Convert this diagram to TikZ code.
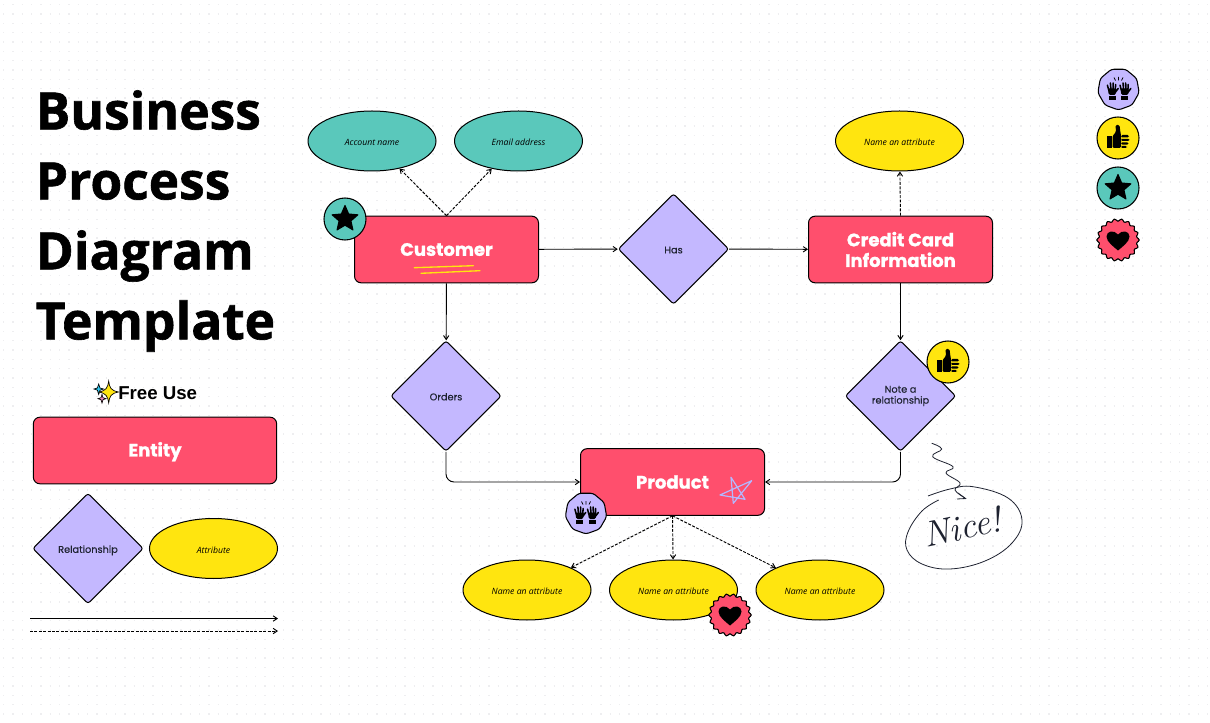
\documentclass[tikz,border=0pt]{standalone}
\usepackage{fontspec}
\usetikzlibrary{shapes.geometric,arrows.meta}
\newfontfamily\titlefont{Open Sans}[BoldFeatures={FakeBold=1.2}]
\newfontfamily\headfont{Poppins}[BoldFeatures={FakeBold=1.2}]
\newfontfamily\labelfont{Poppins}[FakeBold=0.2]
\newfontfamily\attrfont{Open Sans}
\newfontfamily\freefont{Liberation Sans}
\definecolor{cred}{HTML}{FF4F6D}
\definecolor{cpurple}{HTML}{C4B8FF}
\definecolor{cteal}{HTML}{5AC8BB}
\definecolor{cyellow}{HTML}{FFE50F}
\definecolor{cink}{HTML}{1E2230}
\definecolor{cdot}{HTML}{EEEEF0}
\definecolor{cscrib}{HTML}{B4B8FF}
\definecolor{ccyan}{HTML}{30C8F0}
\definecolor{cpink}{HTML}{F08AC0}
\tikzset{
  x=0.75pt,y=-0.75pt,
  entity/.style={draw=black,fill=cred,rounded corners=5pt,line width=0.75pt,minimum width=138pt,minimum height=50pt,align=center,text=white,font=\headfont\bfseries\fontsize{13.5}{15.5}\selectfont,inner sep=0pt},
  relation/.style={diamond,aspect=1,draw=black,fill=cpurple,rounded corners=2pt,line width=0.75pt,minimum width=83pt,minimum height=83pt,align=center,text=cink,font=\labelfont\fontsize{7.3}{8.2}\selectfont,inner sep=0pt},
  attrib/.style={ellipse,draw=black,fill=#1,line width=0.75pt,minimum width=96pt,minimum height=45pt,inner sep=0pt,font=\attrfont\itshape\fontsize{6.5}{7}\selectfont,text=black,text height=7pt,text depth=0pt},
  conn/.style={draw=black,line width=0.7pt,-{Straight Barb[length=3pt,width=4pt]},rounded corners=6pt},
  dconn/.style={conn,dash pattern=on 2.2pt off 1.1pt},
  badge/.style={draw=black,line width=0.8pt},
  pics/starbadge/.style={code={
    \draw[badge,fill=cteal] (0,0) circle (21);
    \fill[black,line join=round,draw=black,line width=0.8pt] (0,-13.5) -- (3.64,-5.02) -- (12.84,-4.17) -- (5.9,1.92) -- (7.94,10.92) -- (0,6.2) -- (-7.94,10.92) -- (-5.9,1.92) -- (-12.84,-4.17) -- (-3.64,-5.02) -- cycle;
  }},
  pics/heartbadge/.style={code={
    \draw[badge,fill=cred] plot[domain=0:356,samples=90,smooth cycle] (\x:{20+1.2*cos(18*\x)});
    \fill[black] (0,10.5) .. controls (-4,7) and (-11.5,2) .. (-11.5,-3.5) .. controls (-11.5,-9) and (-4,-10.5) .. (0,-5.5) .. controls (4,-10.5) and (11.5,-9) .. (11.5,-3.5) .. controls (11.5,2) and (4,7) .. (0,10.5) -- cycle;
  }},
  pics/thumbbadge/.style={code={
    \draw[badge,fill=cyellow] (0,0) circle (21);
    \fill[black] (-11,-2) rectangle (-6.5,10);
    \fill[black,rounded corners=1pt] (-5.5,-2) -- (-2,-6) -- (-2.5,-13) -- (1.5,-13) -- (2.5,-5) -- (3,-3) -- (3,10) -- (-5.5,10) -- cycle;
    \fill[black,rounded corners=1pt] (3,-3) rectangle (11,-0.6);
    \fill[black,rounded corners=1pt] (3,0.8) rectangle (11.5,3);
    \fill[black,rounded corners=1pt] (3,4.4) rectangle (10.5,6.6);
    \fill[black,rounded corners=1pt] (3,8) rectangle (9,10);
  }},
  pics/hand/.style={code={
    \fill[black] (-3.5,7.2) rectangle (3.5,11);
    \fill[black,rounded corners=1pt] (-4.4,-0.5) -- (3.8,-0.5) -- (3.4,6) -- (-3.4,6) -- cycle;
    \draw[black,line width=1.15pt,line cap=round] (-3.5,1) -- (-4.8,-3.8) (-1.3,0) -- (-1.8,-6) (1,0) -- (0.9,-6) (3.1,1) -- (3.4,-4.5) (2.6,4) -- (6,-0.5);
  }},
  pics/handsbadge/.style={code={
    \draw[badge,fill=cpurple,rounded corners=2pt] (10:21) -- (50:21) -- (90:21) -- (130:21) -- (170:21) -- (210:21) -- (250:21) -- (290:21) -- (330:21) -- cycle;
    \begin{scope}[shift={(-6.3,0)}] \pic {hand}; \end{scope}
    \begin{scope}[shift={(6.3,0)},xscale=-1] \pic {hand}; \end{scope}
    \draw[black,line width=0.6pt] (0,-12) -- (0,-8.5) (-4.5,-11.5) -- (-3,-8.5) (4.5,-11.5) -- (3,-8.5);
  }},
}
\begin{document}
\begin{tikzpicture}
\useasboundingbox (0,0) rectangle (1210,723);
\fill[white] (0,0) rectangle (1210,723);
\foreach \j in {0,...,77} { \draw[cdot,line width=1.1pt,dash pattern=on 1.1pt off 5.9pt] (3,{4.7+\j*9.3333}) -- (1210,{4.7+\j*9.3333}); }

% title
\node[anchor=north west,align=left,inner sep=0pt,font=\titlefont\bfseries\fontsize{38.6}{52.5}\selectfont] (title) at (35.5,90) {Business\\Process\\Diagram\\Template};
\node[anchor=west,inner sep=0pt,font=\freefont\bfseries\fontsize{14}{16}\selectfont] (free) at (118,393) {Free Use};
\draw[black,line width=0.5pt,fill=ccyan] (98.7,384) -- (100,388) -- (103.5,389) -- (100,390.2) -- (98.7,394.5) -- (97.4,390.2) -- (94,389) -- (97.4,388) -- cycle;
\draw[black,line width=0.5pt,fill=cpink] (102,394.5) -- (103,397.7) -- (106,398.7) -- (103,399.7) -- (102,403) -- (101,399.7) -- (98,398.7) -- (101,397.7) -- cycle;
\draw[black,line width=0.5pt,fill=cyellow] (108.7,381) .. controls (109.5,388) and (111,390.5) .. (118.5,392) .. controls (111,393.5) and (109.5,396) .. (108.7,403) .. controls (107.8,396) and (106,393.5) .. (99,392) .. controls (106,390.5) and (107.8,388) .. (108.7,381) -- cycle;

% legend
\node[entity,minimum width=182.5pt,text height=9pt,text depth=0pt] (legent) at (155,450.5) {Entity};
\node[relation,text height=6.5pt,text depth=0pt] (legrel) at (88,548.5) {Relationship};
\node[attrib=cyellow] (legatt) at (213.5,548.5) {Attribute};
\coordinate (ls1) at (30,618.5); \coordinate (le1) at (278,618.5);
\coordinate (ls2) at (30,631); \coordinate (le2) at (278,631);
\draw[conn] (ls1) -- (le1);
\draw[dconn] (ls2) -- (le2);

% nodes
\node[entity] (customer) at (446.5,249.5) {Customer};
\node[entity] (credit) at (900.5,249.5) {Credit Card\\Information};
\node[entity] (product) at (672.5,482) {Product};
\node[relation,text height=6.5pt,text depth=0pt] (has) at (673.5,249) {Has};
\node[relation,text height=6.5pt,text depth=0pt] (orders) at (446,396) {Orders};
\node[relation] (note) at (900.5,396) {\raisebox{-0.7pt}{Note a}\\\raisebox{-0.7pt}{relationship}};
\node[attrib=cteal] (acct) at (372,141) {Account name};
\node[attrib=cteal] (email) at (518.5,141) {Email address};
\node[attrib=cyellow] (attrtop) at (899.5,141) {Name an attribute};
\node[attrib=cyellow] (attra) at (527,590) {Name an attribute};
\node[attrib=cyellow] (attrb) at (673.5,590) {Name an attribute};
\node[attrib=cyellow] (attrc) at (820,590) {Name an attribute};

% connectors
\draw[conn] (customer) -- (has);
\draw[conn] (has) -- (credit);
\draw[conn] (credit) -- (note);
\draw[conn] (customer) -- (orders);
\draw[conn] (orders.south) |- (product.west);
\draw[conn] (note.south) |- (product.east);
\draw[dconn] (customer.north) -- (acct);
\draw[dconn] (customer.north) -- (email);
\draw[dconn] (credit.north) -- (attrtop);
\draw[dconn] (product.south) -- (attra);
\draw[dconn] (product.south) -- (attrb);
\draw[dconn] (product.south) -- (attrc);

% scribbles
\draw[cyellow,line width=1pt,line cap=round] (414.3,267.7) -- (473.3,265.7) (421,273.3) -- (480,270.7);
\draw[cscrib,line width=0.9pt,line join=round] (731,477.3) -- (733.3,503.3) -- (751.7,480.7) -- (720,495) -- (745,499.3) -- cycle;

% badges
\pic at (345,219) {starbadge};
\pic at (948,362) {thumbbadge};
\pic at (586,513) {handsbadge};
\pic at (730,615) {heartbadge};
\pic at (1118.5,89) {handsbadge};
\pic at (1118,138) {thumbbadge};
\pic at (1118,188) {starbadge};
\pic at (1118,240) {heartbadge};

% Nice!
\draw[cink,line width=0.6pt,line join=round] plot[smooth,tension=0.7] coordinates {(931.7,443.3) (941.7,449) (932.7,456.7) (953,466.7) (946,473) (960,483) (955,490) (965,498)};
\draw[cink,line width=0.6pt] (958,493) -- (965.5,498.5) -- (957,499);
\draw[cink,line width=0.6pt] plot[smooth,tension=0.65] coordinates {(938.7,500) (922,511) (908,532) (907,550) (922,564) (950,569) (985,561) (1012,543) (1022,520) (1008,498) (973,486.7) (950,489) (928,496)};
\node[inner sep=0pt,rotate=12,text=cink,font=\itshape\fontsize{27}{30}\selectfont] (nice) at (962,527) {Nice!};
\end{tikzpicture}
\end{document}
